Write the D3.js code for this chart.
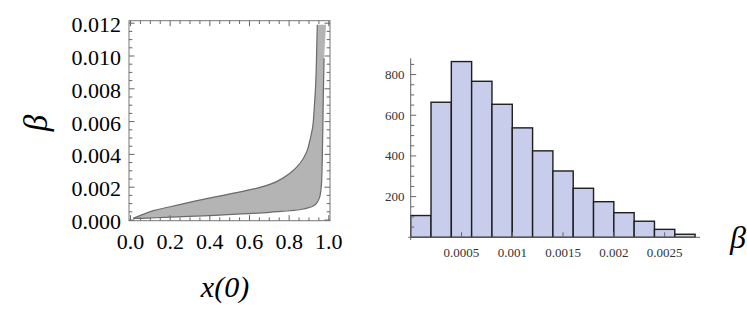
<!DOCTYPE html>
<html>
<head>
<meta charset="utf-8">
<script src="https://cdn.jsdelivr.net/npm/d3@7"></script>
<style>
  body { margin: 0; background: #fff; }
  svg { display: block; }
</style>
</head>
<body>
<div id="chart"></div>
<script>
// Left panel: region in (x(0), beta)
const upperX = [0.014, 0.115, 0.2, 0.367, 0.535, 0.653, 0.737, 0.804, 0.855, 0.889, 0.905, 0.919, 0.927, 0.934, 0.939, 0.942]
const upperB = [0.0001, 0.00057, 0.00081, 0.00126, 0.00167, 0.00199, 0.00234, 0.00285, 0.00346, 0.00417, 0.00488, 0.00569, 0.0069, 0.0083, 0.0104, 0.0119]
const lowerX = [0.014, 0.09, 0.2, 0.451, 0.703, 0.872, 0.93, 0.952, 0.962, 0.967, 0.972, 0.976]
const lowerB = [0.0001, 0.00012, 0.00018, 0.0003, 0.00047, 0.00067, 0.00091, 0.00132, 0.00203, 0.00366, 0.0073, 0.00986]
const capX = [0.976, 0.986, 0.942]
const capB = [0.00986, 0.0119, 0.0119]
const leftXTicks = [0, 0.2, 0.4, 0.6, 0.8, 1.0]
const leftYTicks = [0, 0.002, 0.004, 0.006, 0.008, 0.010, 0.012]

// Right panel: histogram of beta
const binStarts = [0, 0.0002, 0.0004, 0.0006, 0.0008, 0.0010, 0.0012, 0.0014, 0.0016, 0.0018, 0.0020, 0.0022, 0.0024, 0.0026]
const binWidth = 0.0002
const counts = [107, 664, 864, 767, 654, 538, 425, 326, 241, 175, 121, 79, 39, 15]
const histXTicks = [0.0005, 0.001, 0.0015, 0.002, 0.0025]
const histXLabels = ['0.0005', '0.001', '0.0015', '0.002', '0.0025']
const histYTicks = [200, 400, 600, 800]

const width = 747
const height = 317
const serif = 'Liberation Serif'

const svg = d3.select('#chart')
  .append('svg')
  .attr('width', width)
  .attr('height', height)
  .attr('font-family', serif)

// ---- left panel ----
const xL = d3.scaleLinear().domain([0, 1]).range([130.5, 328.8])
const yL = d3.scaleLinear().domain([0, 0.012]).range([220, 23.2])

const frame = { x0: 129, x1: 330, y0: 20.7, y1: 220.7 }
const left = svg.append('g')

const upper = upperX.map((x, i) => [x, upperB[i]])
const lower = lowerX.map((x, i) => [x, lowerB[i]])
const cap = capX.map((x, i) => [x, capB[i]])
const polygon = lower.concat(cap.slice(1), upper.slice().reverse())

const line = d3.line().x(d => xL(d[0])).y(d => yL(d[1])).curve(d3.curveCatmullRom)

left.append('path')
  .attr('d', d3.line().x(d => xL(d[0])).y(d => yL(d[1]))(polygon) + 'Z')
  .attr('fill', '#b4b4b4')

left.append('path').attr('d', line(upper))
  .attr('fill', 'none').attr('stroke', '#6a6a6a').attr('stroke-width', 1.2)
left.append('path').attr('d', line(lower))
  .attr('fill', 'none').attr('stroke', '#6a6a6a').attr('stroke-width', 1.2)

// frame
left.append('rect')
  .attr('x', frame.x0).attr('y', frame.y0)
  .attr('width', frame.x1 - frame.x0).attr('height', frame.y1 - frame.y0)
  .attr('fill', 'none').attr('stroke', '#777').attr('stroke-width', 1)

const xMinor = d3.range(0, 1.0001, 0.05)
const yMinor = d3.range(0, 0.01201, 0.0005)
const isMajor = (v, step) => Math.abs(v / step - Math.round(v / step)) < 1e-6

const ticksG = left.append('g').attr('stroke', '#666').attr('stroke-width', 1)
xMinor.forEach(v => {
  const len = isMajor(v, 0.2) ? 5.5 : 3.3
  const x = xL(v)
  ticksG.append('line').attr('x1', x).attr('x2', x).attr('y1', frame.y1).attr('y2', frame.y1 - len)
  ticksG.append('line').attr('x1', x).attr('x2', x).attr('y1', frame.y0).attr('y2', frame.y0 + len)
})
yMinor.forEach(v => {
  const len = isMajor(v, 0.002) ? 5.5 : 3.3
  const y = yL(v)
  ticksG.append('line').attr('x1', frame.x0).attr('x2', frame.x0 + len).attr('y1', y).attr('y2', y)
  ticksG.append('line').attr('x1', frame.x1).attr('x2', frame.x1 - len).attr('y1', y).attr('y2', y)
})

left.selectAll('.xl')
  .data(leftXTicks)
  .enter()
  .append('text')
  .attr('x', d => xL(d))
  .attr('y', 241)
  .attr('text-anchor', 'middle')
  .attr('dominant-baseline', 'central')
  .style('font-size', '22px')
  .text(d => d.toFixed(1))

left.selectAll('.yl')
  .data(leftYTicks)
  .enter()
  .append('text')
  .attr('x', 121)
  .attr('y', d => yL(d) + 1.5)
  .attr('text-anchor', 'end')
  .attr('dominant-baseline', 'central')
  .style('font-size', '22px')
  .text(d => d.toFixed(3))

left.append('text')
  .attr('transform', 'translate(47, 123) rotate(-90)')
  .attr('text-anchor', 'middle')
  .style('font-size', '33px')
  .style('font-style', 'italic')
  .text('β')

left.append('text')
  .attr('x', 225)
  .attr('y', 297)
  .attr('text-anchor', 'middle')
  .style('font-size', '30px')
  .style('font-style', 'italic')
  .text('x(0)')

// ---- right panel ----
const xH = d3.scaleLinear().domain([0, 0.0028]).range([410.7, 695.1])
const yH = d3.scaleLinear().domain([0, 880]).range([237.3, 58.3])

const hist = svg.append('g')

hist.selectAll('.bar')
  .data(binStarts)
  .enter()
  .append('rect')
  .attr('class', 'bar')
  .attr('x', d => xH(d))
  .attr('y', (d, i) => yH(counts[i]))
  .attr('width', d => xH(d + binWidth) - xH(d))
  .attr('height', (d, i) => yH(0) - yH(counts[i]))
  .attr('fill', '#c7cdea')
  .attr('stroke', '#1e1e1e')
  .attr('stroke-width', 1.4)

const axG = hist.append('g').attr('stroke', '#666').attr('stroke-width', 1)
axG.append('line').attr('x1', 408.3).attr('x2', 700).attr('y1', yH(0)).attr('y2', yH(0))
axG.append('line').attr('x1', xH(0)).attr('x2', xH(0)).attr('y1', 58.3).attr('y2', 240)

d3.range(50, 851, 50).forEach(v => {
  const len = isMajor(v, 200) ? 5.5 : 3.5
  axG.append('line')
    .attr('x1', xH(0)).attr('x2', xH(0) + len)
    .attr('y1', yH(v)).attr('y2', yH(v))
})
histXTicks.forEach(v => {
  axG.append('line')
    .attr('x1', xH(v)).attr('x2', xH(v))
    .attr('y1', yH(0)).attr('y2', yH(0) - 5)
})

hist.selectAll('.hy')
  .data(histYTicks)
  .enter()
  .append('text')
  .attr('x', 404.5)
  .attr('y', d => yH(d))
  .attr('text-anchor', 'end')
  .attr('dominant-baseline', 'central')
  .attr('fill', '#333')
  .style('font-size', '13px')
  .text(d => d)

hist.selectAll('.hx')
  .data(histXTicks)
  .enter()
  .append('text')
  .attr('x', d => xH(d))
  .attr('y', 252)
  .attr('text-anchor', 'middle')
  .attr('dominant-baseline', 'central')
  .attr('fill', '#333')
  .style('font-size', '13px')
  .text((d, i) => histXLabels[i])

hist.append('text')
  .attr('x', 738)
  .attr('y', 248)
  .attr('text-anchor', 'middle')
  .style('font-size', '32px')
  .style('font-style', 'italic')
  .text('β')
</script>
</body>
</html>
